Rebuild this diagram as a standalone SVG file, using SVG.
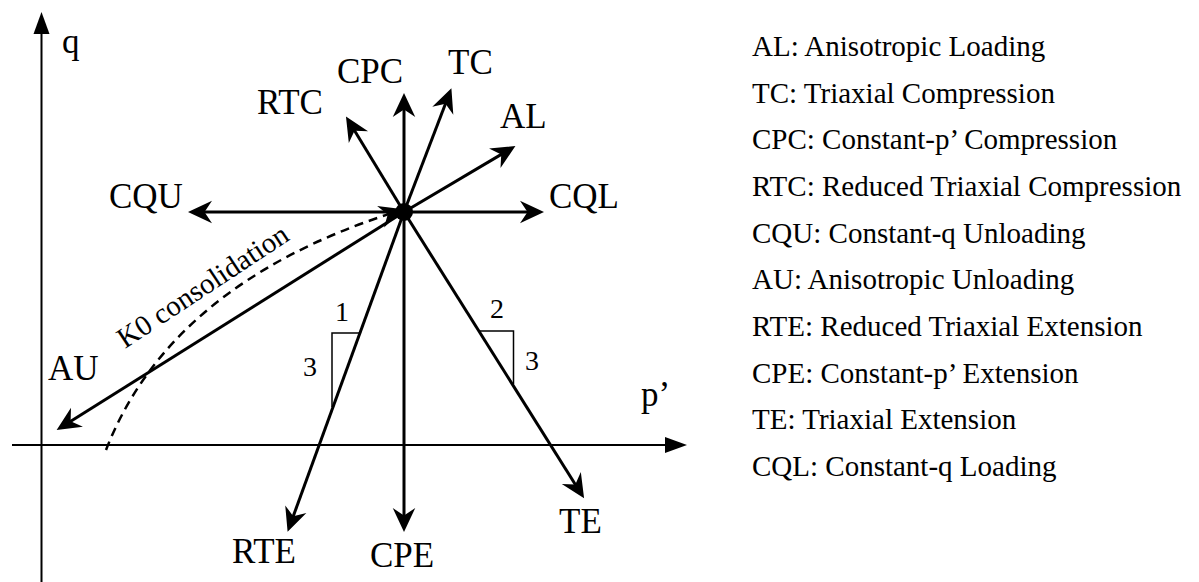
<svg xmlns="http://www.w3.org/2000/svg" width="1199" height="582" viewBox="0 0 1199 582">
<defs>
<marker id="ah" markerUnits="userSpaceOnUse" markerWidth="30" markerHeight="30" viewBox="-10 -10 20 20" refX="0" refY="0" orient="auto" overflow="visible">
<path d="M8,0 L-8,-7.5 L-3,0 L-8,7.5 Z" fill="#000"/>
</marker>
</defs>
<style>
.t{font-family:"Liberation Serif","Times New Roman",serif;fill:#000}
.big{font-size:35px}
.leg{font-size:29px}
.num{font-size:28px}
.ar{stroke:#000;stroke-width:3;fill:none;marker-end:url(#ah)}
.ax{stroke:#000;stroke-width:2;fill:none}
.tri{stroke:#000;stroke-width:1.5;fill:none}
</style>
<rect width="1199" height="582" fill="#fff"/>
<g id="axes">
<line class="ax" x1="41.5" y1="582" x2="41.5" y2="32"/>
<polygon points="41.5,12 33.5,34 49.5,34" fill="#000"/>
<line class="ax" x1="12" y1="445" x2="667" y2="445"/>
<polygon points="687,445 665,437 665,453" fill="#000"/>
<text class="t big" x="62" y="53">q</text>
<text class="t big" x="641" y="406">p’</text>
</g>
<g id="connectors">
<path d="M106,450 Q170,285 392,213" stroke="#000" stroke-width="2.5" fill="none" stroke-dasharray="9 6" marker-end="url(#ah)"/>
<line class="ar" x1="404" y1="212" x2="404" y2="105"/>
<line class="ar" x1="404" y1="212" x2="447.1" y2="99.5"/>
<line class="ar" x1="404" y1="212" x2="505.1" y2="152.1"/>
<line class="ar" x1="404" y1="212" x2="352.2" y2="126.8"/>
<line class="ar" x1="404" y1="212" x2="532" y2="212"/>
<line class="ar" x1="404" y1="212" x2="200" y2="212"/>
<line class="ar" x1="404" y1="212" x2="66.8" y2="423.7"/>
<line class="ar" x1="404" y1="212" x2="291.7" y2="520.5"/>
<line class="ar" x1="404" y1="212" x2="404" y2="520"/>
<line class="ar" x1="404" y1="212" x2="577.7" y2="488.2"/>
</g>
<g id="center"><circle cx="404" cy="212" r="9" fill="#000"/></g>
<g id="labels">
<text class="t big" x="337" y="83">CPC</text>
<text class="t big" x="448" y="74">TC</text>
<text class="t big" x="257" y="114">RTC</text>
<text class="t big" x="500" y="128">AL</text>
<text class="t big" x="109" y="208">CQU</text>
<text class="t big" x="549" y="208">CQL</text>
<text class="t big" x="48" y="380">AU</text>
<text class="t big" x="232" y="563">RTE</text>
<text class="t big" x="370" y="567">CPE</text>
<text class="t big" x="559" y="533">TE</text>
<text class="t" font-size="29" transform="translate(125,349) rotate(-33.5)">K0 consolidation</text>
</g>
<g id="slope-left">
<polyline class="tri" points="359.5,333 332,333 332,407"/>
<text class="t num" x="342" y="321" text-anchor="middle">1</text>
<text class="t num" x="310" y="376" text-anchor="middle">3</text>
</g>
<g id="slope-right">
<polyline class="tri" points="479,331 513.5,331 513.5,384"/>
<text class="t num" x="497" y="318" text-anchor="middle">2</text>
<text class="t num" x="532" y="370" text-anchor="middle">3</text>
</g>
<g id="legend" class="t leg">
<text x="752" y="56">AL: Anisotropic Loading</text>
<text x="752" y="102.5">TC: Triaxial Compression</text>
<text x="752" y="149">CPC: Constant-p’ Compression</text>
<text x="752" y="196">RTC: Reduced Triaxial Compression</text>
<text x="752" y="242.5">CQU: Constant-q Unloading</text>
<text x="752" y="289">AU: Anisotropic Unloading</text>
<text x="752" y="336">RTE: Reduced Triaxial Extension</text>
<text x="752" y="382.5">CPE: Constant-p’ Extension</text>
<text x="752" y="429">TE: Triaxial Extension</text>
<text x="752" y="476">CQL: Constant-q Loading</text>
</g>
</svg>
